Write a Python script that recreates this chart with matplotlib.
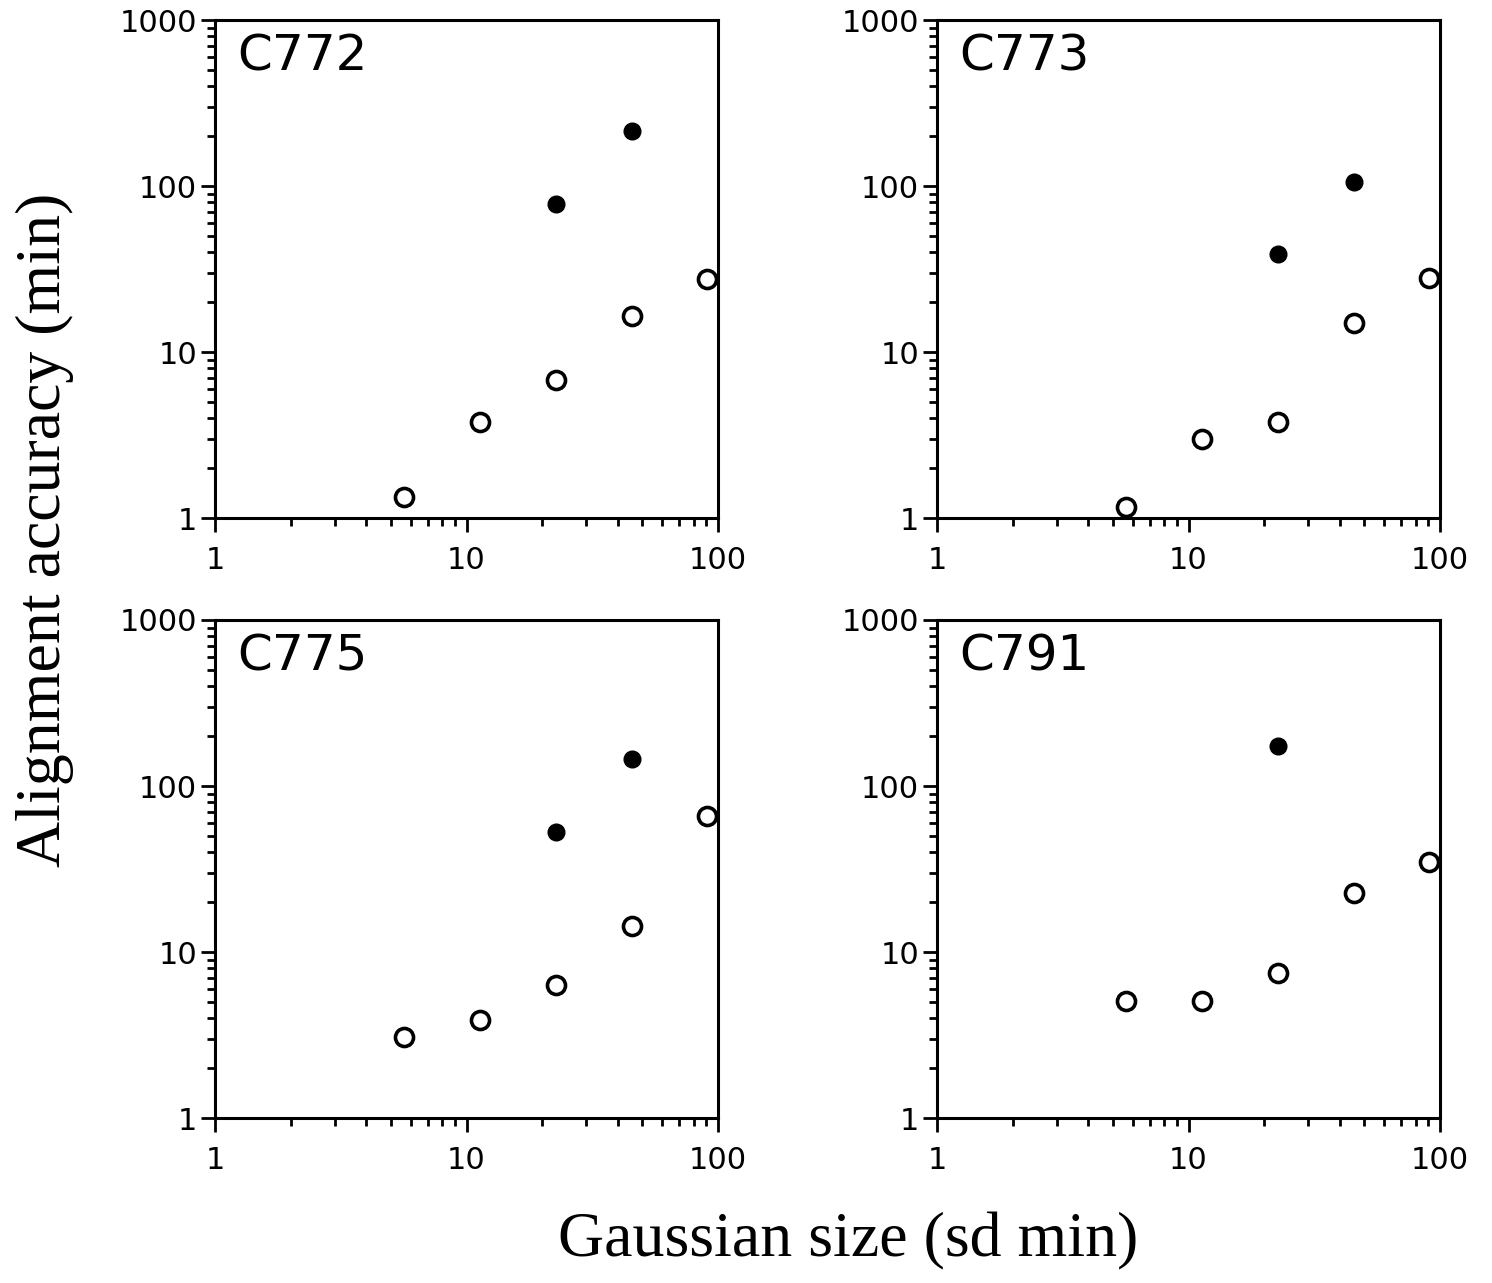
import matplotlib
matplotlib.use('Agg')
import matplotlib.pyplot as plt
from matplotlib.ticker import LogLocator, FixedLocator, NullFormatter

# gaussian sd sizes (min)
sizes = [5.66, 11.3, 22.6, 45.3, 90.5]

panels = ['C772', 'C773', 'C775', 'C791']
open_vals = {
    'C772': [1.34, 3.8, 6.8, 16.5, 27.5],
    'C773': [1.16, 3.0, 3.8, 15.0, 28.0],
    'C775': [3.08, 3.9, 6.3, 14.4, 66.0],
    'C791': [5.07, 5.07, 7.5, 22.6, 35.0],
}
filled_x = {
    'C772': [22.6, 45.3],
    'C773': [22.6, 45.3],
    'C775': [22.6, 45.3],
    'C791': [22.6],
}
filled_vals = {
    'C772': [78, 215],
    'C773': [39, 106],
    'C775': [53, 145],
    'C791': [174],
}

fig = plt.figure(figsize=(14.92, 12.83), dpi=100)

W, H = 1492, 1283
boxes = [(215, 20), (937, 20), (215, 620), (937, 620)]  # left, top in px
aw, ah = 503, 498

for name, (lx, ty) in zip(panels, boxes):
    ax = fig.add_axes([lx / W, 1 - (ty + ah) / H, aw / W, ah / H])
    ax.set_xscale('log')
    ax.set_yscale('log')
    ax.set_xlim(1, 100)
    ax.set_ylim(1, 1000)

    ax.plot(sizes, open_vals[name], 'o', ms=13, mfc='white', mec='black',
            mew=2.6, clip_on=False, zorder=5)
    ax.plot(filled_x[name], filled_vals[name], 'o', ms=12, mfc='black',
            mec='black', clip_on=False, zorder=5)

    ax.text(0.045, 0.975, name, transform=ax.transAxes, fontsize=36,
            family='DejaVu Sans', va='top', ha='left')

    for s in ['left', 'bottom', 'top', 'right']:
        ax.spines[s].set_linewidth(2.2)

    ax.xaxis.set_major_locator(FixedLocator([1, 10, 100]))
    ax.yaxis.set_major_locator(FixedLocator([1, 10, 100, 1000]))
    ax.xaxis.set_minor_locator(LogLocator(base=10, subs=range(2, 10)))
    ax.yaxis.set_minor_locator(LogLocator(base=10, subs=range(2, 10)))
    ax.xaxis.set_minor_formatter(NullFormatter())
    ax.yaxis.set_minor_formatter(NullFormatter())
    ax.set_xticklabels(['1', '10', '100'])
    ax.set_yticklabels(['1', '10', '100', '1000'])

    ax.tick_params(which='major', direction='out', length=10, width=2,
                   labelsize=22, top=False, right=False)
    ax.tick_params(which='minor', direction='out', length=6, width=2,
                   top=False, right=False)
    ax.tick_params(axis='x', which='major', pad=10)
    ax.tick_params(axis='y', which='major', pad=3)

fig.text(848 / W, 1 - 1241 / H, 'Gaussian size (sd min)', ha='center',
         va='center', fontsize=46, family='Liberation Serif')
fig.text(45 / W, 1 - 530 / H, 'Alignment accuracy (min)', ha='center',
         va='center', rotation=90, fontsize=46, family='Liberation Serif')

fig.savefig('out.png', dpi=100)
